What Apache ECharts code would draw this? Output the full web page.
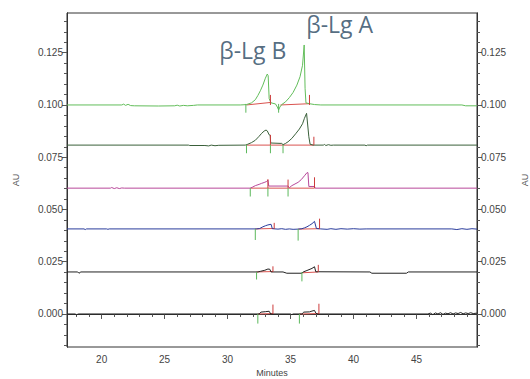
<!DOCTYPE html>
<html>
<head>
<meta charset="utf-8">
<script src="https://cdn.jsdelivr.net/npm/echarts@6/dist/echarts.min.js"></script>
<style>
html,body{margin:0;padding:0;background:#fff;}
#chart{width:530px;height:379px;}
</style>
</head>
<body>
<div id="chart"></div>
<script>
// ---- axis ticks / labels ----
const minutesMajor = [20, 25, 30, 35, 40, 45];
const minutesMinor = [18, 19, 21, 22, 23, 24, 26, 27, 28, 29, 31, 32, 33, 34, 36, 37, 38, 39, 41, 42, 43, 44, 46, 47, 48, 49];
const auMajor = [0, 0.025, 0.05, 0.075, 0.1, 0.125];
const auMinor = [-0.015, -0.01, -0.005, 0.005, 0.01, 0.015, 0.02, 0.03, 0.035, 0.04, 0.045, 0.055, 0.06, 0.065, 0.07, 0.08, 0.085, 0.09, 0.095, 0.105, 0.11, 0.115, 0.12, 0.13, 0.135, 0.14];
const peakLabels = ['β-Lg B', 'β-Lg A'];

// ---- traces [minutes, AU] ----
const trace1 = [[17.25,0.1000],[21.6,0.1000],[21.75,0.1004],[21.9,0.0998],[22.1,0.1003],[22.3,0.0997],[22.6,0.0996],[24.5,0.0995],[25.8,0.0996],[26.0,0.0999],[26.2,0.0995],[26.5,0.0998],[26.8,0.0996],[27.3,0.0998],[27.6,0.1000],[31.0,0.1000],[31.3,0.1001],[31.5,0.1002],[31.9,0.1010],[32.2,0.1025],[32.4,0.1045],[32.6,0.1068],[32.8,0.1095],[33.0,0.1128],[33.15,0.1148],[33.22,0.1140],[33.3,0.1030],[33.45,0.1010],[33.8,0.1005],[33.95,0.0990],[34.05,0.0976],[34.15,0.0990],[34.3,0.1002],[34.6,0.1015],[34.9,0.1035],[35.2,0.1060],[35.5,0.1095],[35.75,0.1135],[35.95,0.1190],[36.08,0.1287],[36.15,0.1080],[36.22,0.1010],[36.5,0.1006],[36.9,0.1002],[37.4,0.1000],[48.6,0.1000],[48.9,0.0996],[49.8,0.0996]];
const trace2 = [[17.25,0.0808],[26.9,0.0808],[27.0,0.0806],[28.2,0.0806],[28.5,0.0804],[28.7,0.0808],[29.0,0.0805],[29.3,0.0807],[31.4,0.0808],[31.6,0.0812],[31.9,0.0820],[32.2,0.0831],[32.5,0.0850],[32.7,0.0864],[32.9,0.0875],[33.05,0.0880],[33.15,0.0876],[33.3,0.0857],[33.38,0.0855],[33.42,0.0818],[34.3,0.0816],[34.4,0.0810],[34.6,0.0816],[34.8,0.0824],[35.1,0.0840],[35.4,0.0862],[35.7,0.0885],[35.95,0.0910],[36.1,0.0936],[36.27,0.0960],[36.45,0.0848],[36.55,0.0812],[36.8,0.0808],[37.6,0.0808],[37.7,0.0811],[37.8,0.0806],[38.0,0.0810],[38.2,0.0807],[38.4,0.0808],[40.9,0.0808],[41.0,0.0805],[41.1,0.0808],[49.8,0.0808]];
const trace3 = [[17.25,0.0602],[20.7,0.0602],[20.8,0.0605],[21.0,0.0600],[21.2,0.0604],[21.4,0.0600],[21.6,0.0603],[21.8,0.0602],[31.8,0.0602],[31.95,0.0606],[32.2,0.0614],[32.5,0.0620],[32.7,0.0625],[32.9,0.0629],[33.1,0.0634],[33.2,0.0641],[33.27,0.0612],[34.8,0.0612],[34.9,0.0604],[35.1,0.0614],[35.35,0.0622],[35.6,0.0630],[35.85,0.0643],[36.1,0.0661],[36.3,0.0676],[36.38,0.0676],[36.45,0.0610],[36.9,0.0610],[36.95,0.0602],[49.8,0.0602]];
const trace4 = [[17.25,0.0407],[18.6,0.0407],[18.7,0.0404],[18.8,0.0407],[20.4,0.0407],[20.5,0.0405],[20.6,0.0407],[32.3,0.0407],[32.55,0.0409],[32.8,0.0417],[33.0,0.0422],[33.2,0.0426],[33.45,0.0429],[33.55,0.0408],[34.0,0.0406],[34.3,0.0408],[34.6,0.0405],[34.9,0.0407],[35.2,0.0405],[35.6,0.0406],[35.9,0.0408],[36.1,0.0412],[36.3,0.0417],[36.5,0.0424],[36.7,0.0432],[36.9,0.0443],[37.05,0.0409],[37.4,0.0407],[37.9,0.0405],[38.2,0.0408],[38.6,0.0405],[39.0,0.0408],[39.5,0.0406],[40.0,0.0408],[40.5,0.0406],[41.0,0.0407],[47.8,0.0407],[48.2,0.0404],[48.6,0.0408],[49.0,0.0405],[49.4,0.0408],[49.8,0.0406]];
const trace5 = [[17.25,0.0201],[18.1,0.0201],[18.2,0.0195],[18.35,0.0201],[32.4,0.0201],[32.6,0.0204],[32.95,0.0209],[33.2,0.0215],[33.35,0.0214],[33.45,0.0201],[34.4,0.0201],[34.7,0.0195],[35.9,0.0195],[36.0,0.0201],[36.3,0.0208],[36.7,0.0218],[36.9,0.0226],[37.0,0.0202],[41.3,0.0201],[41.45,0.0195],[44.2,0.0195],[44.35,0.0201],[49.8,0.0201]];
const trace6 = [[17.25,0],[17.9,0],[18.0,-0.0004],[18.15,0],[32.5,0],[32.65,0.0009],[33.0,0.0011],[33.3,0.0013],[33.42,0],[35.0,0],[35.1,-0.0003],[35.2,0],[35.9,0],[36.05,0.0009],[36.5,0.0010],[36.7,0.0014],[36.9,0.0017],[37.0,0.0005],[37.1,0],[45.9,0],[46.1,0.0004],[46.3,-0.0003],[46.5,0.0005],[46.7,0],[46.9,0.0006],[47.1,-0.0002],[47.3,0.0004],[47.5,0.0001],[47.7,0.0006],[47.9,0],[48.1,0.0005],[48.3,0.0002],[48.5,0.0007],[48.7,0.0001],[48.9,0.0005],[49.1,0.0002],[49.3,0.0006],[49.5,0.0002],[49.8,0.0004]];

// integration baselines [x1, y1, x2, y2]
const redBaselines = [[31.5,0.1000,33.4,0.1012],[34.2,0.1000,36.5,0.1006],[31.5,0.0808,36.85,0.0808],[31.8,0.0602,36.9,0.0602],[32.2,0.0407,33.7,0.0409],[35.6,0.0406,37.3,0.0408],[32.3,0.0201,33.6,0.0203],[35.9,0.0197,37.2,0.0201],[32.4,0.0,33.6,0.0002],[35.7,0,37.25,0.0002]];
// peak end markers [x, yFrom, yTo]
const redMarks = [[33.4,0.1000,0.1048],[36.5,0.1000,0.1048],[33.4,0.0808,0.0857],[36.85,0.0808,0.0848],[33.2,0.0602,0.0645],[34.8,0.0602,0.0643],[36.9,0.0602,0.0654],[33.7,0.0407,0.0436],[37.3,0.0407,0.0456],[33.6,0.0201,0.0228],[37.2,0.0201,0.0235],[33.6,0.0,0.0045],[37.25,0.0,0.0049]];
// peak start markers [x, yFrom, yTo]
const greenMarks = [[31.45,0.1005,0.0963],[34.05,0.1005,0.0963],[31.5,0.0810,0.0769],[33.4,0.0810,0.0769],[34.4,0.0810,0.0769],[31.8,0.0602,0.0562],[33.2,0.0602,0.0562],[34.8,0.0602,0.0562],[32.2,0.0407,0.0354],[35.6,0.0407,0.0351],[32.3,0.0201,0.0165],[35.9,0.0201,0.0156],[32.4,0.0,-0.0046],[35.7,0.0,-0.0046]];
// label anchor points [minutes, AU]
const peakLabelPos = [[32.0, 0.1265], [38.9, 0.1385]];

function segData(list){const o=[];list.forEach(s=>{o.push([s[0],s[1]]);o.push([s[2],s[3]]);o.push([s[2],null]);});return o;}
function tickData(list){const o=[];list.forEach(s=>{o.push([s[0],s[1]]);o.push([s[0],s[2]]);o.push([s[0],null]);});return o;}

const chart = echarts.init(document.getElementById('chart'), null, {renderer:'svg'});
const X_MIN = 17.25, X_MAX = 49.8, Y_MIN = -0.0158, Y_MAX = 0.144;
const font = 'Liberation Sans';
const lbl = {color:'#444', fontSize:10, fontFamily:font};
function yAx(pos, major, withName){
  return {
    type:'value', position:pos, min:Y_MIN, max:Y_MAX, splitLine:{show:false},
    axisLine:{show:true, lineStyle:{color:'#333'}},
    axisTick:{show:true, length: major?5:3, lineStyle:{color:'#555'}, customValues: major?auMajor:auMinor},
    axisLabel:{show:major, customValues:auMajor, formatter:v=>v.toFixed(3), margin:4, ...lbl},
    name: withName?'AU':'', nameLocation:'middle', nameGap: pos==='left'?47:43,
    nameTextStyle:{color:'#555', fontSize:9, fontFamily:font}
  };
}
function xAx(major){
  return {
    type:'value', position:'bottom', min:X_MIN, max:X_MAX, splitLine:{show:false},
    axisLine:{show:true, lineStyle:{color:'#333'}},
    axisTick:{show:true, length: major?5:3, lineStyle:{color:'#555'}, customValues: major?minutesMajor:minutesMinor},
    axisLabel:{show:major, customValues:minutesMajor, margin:7, ...lbl},
    name: major?'Minutes':'', nameLocation:'middle', nameGap:21,
    nameTextStyle:{color:'#444', fontSize:9, fontFamily:font}
  };
}
function line(data, color, z){
  return {type:'line', data:data, showSymbol:false, symbol:'none', connectNulls:false, animation:false,
    lineStyle:{color:color, width:1}, itemStyle:{color:color}, z:z, silent:true, xAxisIndex:0, yAxisIndex:0};
}
chart.setOption({
  animation:false,
  grid:{left:67, right:53, top:13, bottom:32, outerBoundsMode:'none', containLabel:false, show:true, borderColor:'#333', borderWidth:1, backgroundColor:'transparent'},
  xAxis:[xAx(true), xAx(false)],
  yAxis:[yAx('left',true,true), yAx('left',false,false), yAx('right',true,true), yAx('right',false,false)],
  series:[
    line(segData(redBaselines), '#d9534f', 2),
    line(trace1, '#62bd5a', 3),
    line(trace2, '#3a603a', 3),
    line(trace3, '#b8489a', 3),
    line(trace4, '#2a3c9c', 3),
    line(trace5, '#222222', 3),
    line(trace6, '#222222', 3),
    line(tickData(redMarks), '#cc3b3b', 4),
    line(tickData(greenMarks), '#5cb85c', 4),
    {type:'scatter', data:peakLabelPos, symbolSize:0, silent:true, z:5, xAxisIndex:0, yAxisIndex:0,
     label:{show:true, position:'inside', formatter:p=>peakLabels[p.dataIndex], color:'#28465f', fontSize:23, fontFamily:'Open Sans'}}
  ]
});
</script>
</body>
</html>
